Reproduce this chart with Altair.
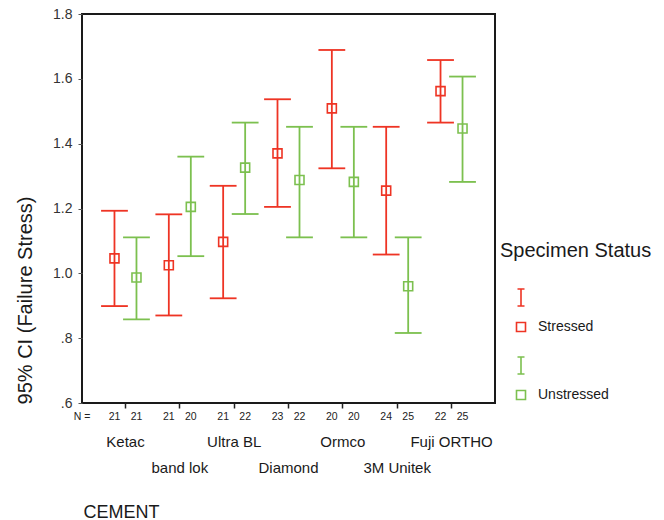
import altair as alt
import pandas as pd

cements = ["Ketac", "band lok", "Ultra BL", "Diamond", "Ormco", "3M Unitek", "Fuji ORTHO"]
statuses = ["Stressed", "Unstressed"]

stressed_mean = [1.046, 1.025, 1.097, 1.370, 1.509, 1.255, 1.562]
stressed_lo = [0.899, 0.870, 0.923, 1.205, 1.324, 1.058, 1.465]
stressed_hi = [1.193, 1.182, 1.270, 1.537, 1.689, 1.452, 1.658]
unstressed_mean = [0.987, 1.205, 1.326, 1.288, 1.282, 0.960, 1.447]
unstressed_lo = [0.858, 1.053, 1.183, 1.111, 1.111, 0.816, 1.282]
unstressed_hi = [1.111, 1.360, 1.465, 1.452, 1.452, 1.111, 1.607]
n_stressed = [21, 21, 21, 23, 20, 24, 22]
n_unstressed = [21, 20, 22, 22, 20, 25, 25]

y_ticks = [0.6, 0.8, 1.0, 1.2, 1.4, 1.6, 1.8]
colors = ["#ee3424", "#7cc04f"]

rows = []
for i, c in enumerate(cements):
    rows.append(dict(cement=c, status="Stressed", mean=stressed_mean[i],
                     lo=stressed_lo[i], hi=stressed_hi[i], n=n_stressed[i]))
    rows.append(dict(cement=c, status="Unstressed", mean=unstressed_mean[i],
                     lo=unstressed_lo[i], hi=unstressed_hi[i], n=n_unstressed[i]))
df = pd.DataFrame(rows)

FONT = "Liberation Sans"
W, H = 413, 389

second_row = cements[1::2]
label_expr = ("indexof([" + ",".join("'" + s + "'" for s in second_row) +
              "], datum.value) >= 0 ? ['', datum.value] : datum.value")

x_enc = alt.X("cement:N", sort=cements,
              scale=alt.Scale(paddingInner=0, paddingOuter=0.3),
              axis=alt.Axis(title="CEMENT", titleFont=FONT, titleFontSize=18,
                            titleFontWeight="normal", titleColor="#1a1a1a",
                            titleAnchor="start", titleAlign="left", titleBaseline="alphabetic",
                            titleX=1, titleY=114,
                            labelExpr=label_expr, labelFont=FONT, labelFontSize=15,
                            labelColor="#1a1a1a", labelAngle=0, labelBaseline="top",
                            labelAlign="center",
                            labelLineHeight=26, labelPadding=26, labelOverlap=False,
                            labelBound=False, labelFlush=False,
                            domain=False, ticks=True, tickSize=5, tickColor="#222",
                            tickWidth=1.5, grid=False))
xo_enc = alt.XOffset("status:N", sort=statuses,
                     scale=alt.Scale(paddingInner=0, paddingOuter=0.235))
y_scale = alt.Scale(domain=[0.6, 1.8], nice=False, zero=False)

y_axis = alt.Axis(title="95% CI (Failure Stress)", titleFont=FONT, titleFontSize=20,
                  titleFontWeight="normal", titleColor="#1a1a1a", titleAngle=-90,
                  titleAlign="center", titleBaseline="middle", titleX=-57, titleY=286,
                  values=y_ticks,
                  labelExpr="datum.value < 1 ? replace(format(datum.value, '.1f'), '0.', '.') : format(datum.value, '.1f')",
                  labelFont=FONT, labelFontSize=14, labelColor="#333",
                  labelPadding=6, domain=False, ticks=True, tickSize=4,
                  tickColor="#555", grid=False)

legend_path = ("M-0.9,-0.9H0.9V0.9H-0.9Z "
               "M-0.7,-7.6H0.7 M0,-7.6V-4.2 M-0.7,-4.2H0.7")

legend = alt.Legend(title="Specimen Status", orient="none",
                    legendX=418, legendY=227, padding=0,
                    titleFont=FONT, titleFontSize=20,
                    titleFontWeight="normal", titleColor="#1a1a1a",
                    titlePadding=59, titleBaseline="top",
                    labelFont=FONT, labelFontSize=14,
                    labelColor="#1a1a1a", labelOffset=10,
                    symbolType=legend_path, symbolSize=100,
                    symbolStrokeWidth=1.6, symbolOffset=14,
                    symbolFillColor="transparent", symbolOpacity=1,
                    rowPadding=18)

color_scale = alt.Scale(domain=statuses, range=colors)
color_main = alt.Color("status:N", scale=color_scale, legend=legend)
color_other = alt.Color("status:N", scale=color_scale)

base = alt.Chart(df)

points = base.mark_point(shape="square", filled=False, size=81, strokeWidth=1.6,
                         opacity=1).encode(
    x=x_enc, xOffset=xo_enc,
    y=alt.Y("mean:Q", scale=y_scale, axis=y_axis), color=color_main)

rules = base.mark_rule(strokeWidth=1.8, opacity=1).encode(
    x=x_enc, xOffset=xo_enc,
    y=alt.Y("lo:Q", scale=y_scale), y2="hi:Q",
    color=color_other)

caps_lo = base.mark_tick(size=25, thickness=0.01, filled=False, strokeWidth=1.8,
                         opacity=1).encode(
    x=x_enc, xOffset=xo_enc, y=alt.Y("lo:Q", scale=y_scale), color=color_other)
caps_hi = base.mark_tick(size=25, thickness=0.01, filled=False, strokeWidth=1.8,
                         opacity=1).encode(
    x=x_enc, xOffset=xo_enc, y=alt.Y("hi:Q", scale=y_scale), color=color_other)

n_text = base.mark_text(font=FONT, fontSize=10.5, color="#222", baseline="middle").encode(
    x=x_enc, xOffset=xo_enc, y=alt.value(H + 14), text="n:Q")

n_label = alt.Chart(pd.DataFrame({"t": ["N ="]})).mark_text(
    font=FONT, fontSize=10.5, color="#222", baseline="middle", align="center").encode(
    x=alt.value(0), y=alt.value(H + 14), text="t:N")

chart = alt.layer(points, rules, caps_lo, caps_hi, n_text, n_label).properties(
    width=W, height=H,
    autosize=alt.AutoSizeParams(type="none"),
    padding={"left": 82, "top": 14, "right": 169, "bottom": 117},
).configure_view(stroke="#1a1a1a", strokeWidth=2)

chart.save("out.html", embed_options={"renderer": "svg", "actions": False})
